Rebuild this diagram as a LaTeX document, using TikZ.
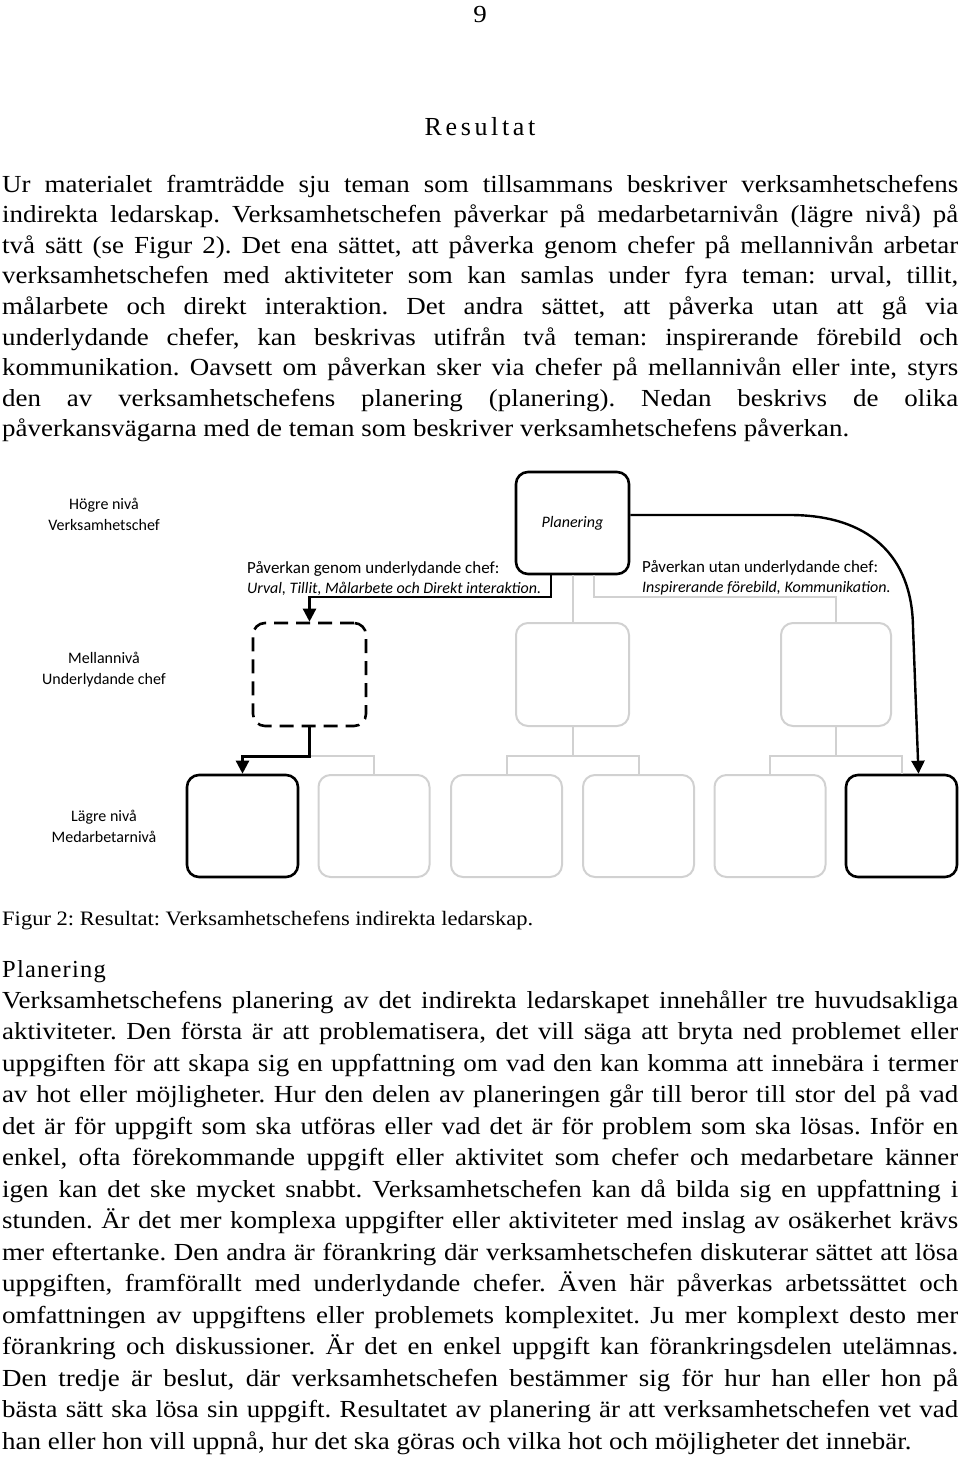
\documentclass[tikz,border=0pt]{standalone}
\usepackage{fontspec}
\setmainfont{Liberation Serif}[FakeStretch=1.1]
\newfontfamily\diagfont{Carlito}
\newfontfamily\spacedfont[LetterSpace=14]{Liberation Serif}
\newfontfamily\subfont[LetterSpace=5]{Liberation Serif}
\usetikzlibrary{arrows.meta}

\newcommand{\jline}[1]{\hbox to 956pt{#1}}
\frenchspacing

\begin{document}
\begin{tikzpicture}[x=1pt,y=-1pt,>={Triangle[length=13pt,width=13pt]}]
    \tikzset{box/.style = {draw, rounded corners=12pt, line width=2.6pt, minimum width=111pt, minimum height=102pt, inner sep=0pt}}
    \tikzset{faintbox/.style = {box, draw=black!18, line width=2pt}}
    \tikzset{dashbox/.style = {box, dash pattern=on 14pt off 8pt}}
    \tikzset{edge/.style = {draw, line width=2.4pt, ->}}
    \tikzset{faint/.style = {draw=black!18, line width=2pt}}
    \tikzset{lvl/.style = {font=\diagfont\fontsize{16}{21}\selectfont, align=center, inner sep=0pt}}
    \tikzset{txt/.style = {anchor=base west, inner sep=0pt, font=\fontsize{24.5}{30}\selectfont}}

    \useasboundingbox (0,0) rectangle (960,1457);

    % page head
    \node[inner sep=0pt, font=\fontsize{24.5}{30}\selectfont] (pagenr) at (480,15) {9};
    \node[inner sep=0pt, font=\spacedfont\fontsize{26}{30}\selectfont] (head) at (480,127) {Resultat};

    % first paragraph
    \node[txt] (pa1) at (2,192) {\jline{Ur materialet framträdde sju teman som tillsammans beskriver verksamhetschefens}};
    \node[txt] (pa2) at (2,222.6) {\jline{indirekta ledarskap. Verksamhetschefen påverkar på medarbetarnivån (lägre nivå) på}};
    \node[txt] (pa3) at (2,253.2) {\jline{två sätt (se Figur 2). Det ena sättet, att påverka genom chefer på mellannivån arbetar}};
    \node[txt] (pa4) at (2,283.8) {\jline{verksamhetschefen med aktiviteter som kan samlas under fyra teman: urval, tillit,}};
    \node[txt] (pa5) at (2,314.4) {\jline{målarbete och direkt interaktion. Det andra sättet, att påverka utan att gå via}};
    \node[txt] (pa6) at (2,345) {\jline{underlydande chefer, kan beskrivas utifrån två teman: inspirerande förebild och}};
    \node[txt] (pa7) at (2,375.6) {\jline{kommunikation. Oavsett om påverkan sker via chefer på mellannivån eller inte, styrs}};
    \node[txt] (pa8) at (2,406.2) {\jline{den av verksamhetschefens planering (planering). Nedan beskrivs de olika}};
    \node[txt] (pa9) at (2,436.8) {påverkansvägarna med de teman som beskriver verksamhetschefens påverkan.};

    % levels
    \node[lvl] (high) at (104,514) {Högre nivå\\Verksamhetschef};
    \node[lvl] (middle) at (104,670) {Mellannivå\\Underlydande chef};
    \node[lvl] (low) at (104,826) {Lägre nivå\\Medarbetarnivå};

    % vertices
    \node[box, minimum width=113pt, font=\diagfont\itshape\fontsize{16}{21}\selectfont] (plan) at (572.5,523) {Planering};
    \node[dashbox, minimum width=113pt, minimum height=103pt] (mid1) at (309.5,674.5) {};
    \node[faintbox, minimum width=113pt, minimum height=103pt] (mid2) at (572.5,674.5) {};
    \node[faintbox, minimum width=110pt, minimum height=103pt] (mid3) at (836,674.5) {};
    \node[box] (low1) at (242.5,826) {};
    \node[faintbox] (low2) at (374,826) {};
    \node[faintbox] (low3) at (506.5,826) {};
    \node[faintbox] (low4) at (638.5,826) {};
    \node[faintbox] (low5) at (770,826) {};
    \node[box] (low6) at (901.5,826) {};

    % influence texts
    \node[lvl, anchor=west, align=left, font=\diagfont\fontsize{16}{20}\selectfont] (via) at (247,578) {{\fontsize{17}{20}\selectfont Påverkan genom underlydande chef:}\\\textit{Urval, Tillit, Målarbete och Direkt interaktion.}};
    \node[lvl, anchor=west, align=left, font=\diagfont\fontsize{16}{20}\selectfont] (direct) at (642,578) {{\fontsize{17}{20}\selectfont Påverkan utan underlydande chef:}\\\textit{Inspirerande förebild, Kommunikation.}};

    % edges
    \coordinate (s1) at (551,597);
    \coordinate (s2) at (594,597);
    \draw[faint] (plan.south) -- (mid2.north);
    \draw[faint] (plan.south -| s2) -- (s2) -| (mid3.north);
    \draw[faint] (mid1.south) -- ++(0,29) -| (low2.north);
    \draw[faint] (mid2.south) -- ++(0,29) -| (low3.north);
    \draw[faint] (mid2.south) ++(0,29) -| (low4.north);
    \draw[faint] (mid3.south) -- ++(0,29) -| (low5.north);
    \draw[faint] (mid3.south) ++(0,29) -| (low6.north);
    \draw[edge] (plan.south -| s1) -- (s1) -| (mid1.north);
    \draw[edge] (mid1.south) -- ++(0,29) -| (low1.north);
    \draw[edge] ([yshift=8pt]plan.east) -- (790,515) .. controls (868,515) and (912,555) .. (913,627) -- ([xshift=17pt]low6.north);

    % caption
    \node[txt, font=\fontsize{20.5}{24}\selectfont] (cap) at (2,925) {Figur 2: Resultat: Verksamhetschefens indirekta ledarskap.};

    % second paragraph
    \node[txt, font=\subfont\fontsize{24.5}{30}\selectfont] (sub) at (2,977) {Planering};
    \node[txt] (pb1) at (2,1008) {\jline{Verksamhetschefens planering av det indirekta ledarskapet innehåller tre huvudsakliga}};
    \node[txt] (pb2) at (2,1039.5) {\jline{aktiviteter. Den första är att problematisera, det vill säga att bryta ned problemet eller}};
    \node[txt] (pb3) at (2,1071) {\jline{uppgiften för att skapa sig en uppfattning om vad den kan komma att innebära i termer}};
    \node[txt] (pb4) at (2,1102.5) {\jline{av hot eller möjligheter. Hur den delen av planeringen går till beror till stor del på vad}};
    \node[txt] (pb5) at (2,1134) {\jline{det är för uppgift som ska utföras eller vad det är för problem som ska lösas. Inför en}};
    \node[txt] (pb6) at (2,1165.5) {\jline{enkel, ofta förekommande uppgift eller aktivitet som chefer och medarbetare känner}};
    \node[txt] (pb7) at (2,1197) {\jline{igen kan det ske mycket snabbt. Verksamhetschefen kan då bilda sig en uppfattning i}};
    \node[txt] (pb8) at (2,1228.5) {\jline{stunden. Är det mer komplexa uppgifter eller aktiviteter med inslag av osäkerhet krävs}};
    \node[txt] (pb9) at (2,1260) {\jline{mer eftertanke. Den andra är förankring där verksamhetschefen diskuterar sättet att lösa}};
    \node[txt] (pb10) at (2,1291.5) {\jline{uppgiften, framförallt med underlydande chefer. Även här påverkas arbetssättet och}};
    \node[txt] (pb11) at (2,1323) {\jline{omfattningen av uppgiftens eller problemets komplexitet. Ju mer komplext desto mer}};
    \node[txt] (pb12) at (2,1354.5) {\jline{förankring och diskussioner. Är det en enkel uppgift kan förankringsdelen utelämnas.}};
    \node[txt] (pb13) at (2,1386) {\jline{Den tredje är beslut, där verksamhetschefen bestämmer sig för hur han eller hon på}};
    \node[txt] (pb14) at (2,1417.5) {\jline{bästa sätt ska lösa sin uppgift. Resultatet av planering är att verksamhetschefen vet vad}};
    \node[txt] (pb15) at (2,1449) {han eller hon vill uppnå, hur det ska göras och vilka hot och möjligheter det innebär.};
\end{tikzpicture}
\end{document}
